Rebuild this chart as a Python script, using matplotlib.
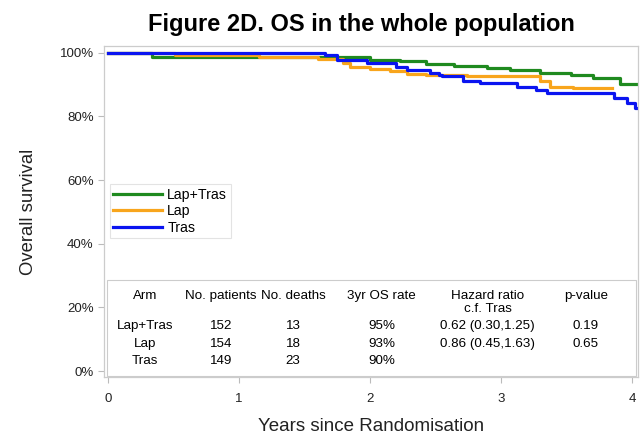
import matplotlib
matplotlib.use('Agg')
import matplotlib.pyplot as plt
from matplotlib.patches import Rectangle
from matplotlib.ticker import PercentFormatter

plt.rcParams['font.family'] = ['Liberation Sans', 'DejaVu Sans']

# KM step curves (years, survival) per arm
green_t = [0, 0.34, 2.0, 2.23, 2.43, 2.64, 2.89, 3.07, 3.3, 3.53, 3.7, 3.91, 4.04]
green_s = [1.0, 0.987, 0.979, 0.973, 0.966, 0.959, 0.952, 0.945, 0.938, 0.931, 0.92, 0.902, 0.902]

orange_t = [0, 0.51, 1.15, 1.6, 1.79, 1.85, 2.0, 2.15, 2.28, 2.43, 2.74, 3.3, 3.37, 3.55, 3.85]
orange_s = [1.0, 0.993, 0.987, 0.98, 0.968, 0.957, 0.95, 0.943, 0.934, 0.93, 0.926, 0.91, 0.894, 0.889, 0.889]

blue_t = [0, 1.66, 1.75, 1.98, 2.2, 2.28, 2.46, 2.53, 2.55, 2.71, 2.84, 3.12, 3.27, 3.35, 3.86, 3.96, 4.02, 4.04]
blue_s = [1.0, 0.993, 0.979, 0.968, 0.957, 0.947, 0.936, 0.93, 0.926, 0.91, 0.904, 0.894, 0.884, 0.873, 0.857, 0.843, 0.827, 0.827]

arms = ['Lap+Tras', 'Lap', 'Tras']
colors = ['#1f8a1f', '#f8a51c', '#0a14f0']

# summary table
header = ['Arm', 'No. patients', 'No. deaths', '3yr OS rate', 'Hazard ratio\nc.f. Tras', 'p-value']
n_patients = ['152', '154', '149']
n_deaths = ['13', '18', '23']
os_3yr = ['95%', '93%', '90%']
hazard = ['0.62 (0.30,1.25)', '0.86 (0.45,1.63)', '']
p_values = ['0.19', '0.65', '']

fig = plt.figure(figsize=(6.42, 4.41), dpi=100)
ax = fig.add_axes([0.162, 0.145, 0.832, 0.751])

for t, s, c, lab in zip([green_t, orange_t, blue_t], [green_s, orange_s, blue_s], colors, arms):
    ax.step(t, s, where='post', color=c, lw=2.3, label=lab)

ax.set_xlim(-0.03, 4.046)
ax.set_ylim(-0.019, 1.022)
ax.set_xticks([0, 1, 2, 3, 4])
ax.set_yticks([0, 0.2, 0.4, 0.6, 0.8, 1.0])
ax.yaxis.set_major_formatter(PercentFormatter(1.0, decimals=0))
ax.tick_params(labelsize=9.5, colors='#bbbbbb', labelcolor='#222222', length=4.5, width=0.8)
ax.tick_params(axis='x', pad=7)
ax.tick_params(axis='y', pad=3)
for sp in ax.spines.values():
    sp.set_color('#cccccc')
    sp.set_linewidth(0.9)

ax.set_xlabel('Years since Randomisation', fontsize=13.5, color='#222222', labelpad=9)
ax.set_ylabel('Overall survival', fontsize=13.3, color='#222222', labelpad=16)
fig.text(0.563, 0.945, 'Figure 2D. OS in the whole population', ha='center', va='center',
         fontsize=17, fontweight='bold')

leg = ax.legend(loc='upper left', bbox_to_anchor=(0.011, 0.582), fontsize=10.2,
                frameon=True, fancybox=False, handlelength=3.4, borderpad=0.25,
                labelspacing=0.18, handletextpad=0.4, borderaxespad=0)
leg.get_frame().set_edgecolor('#dddddd')
leg.get_frame().set_linewidth(0.8)

# table box and contents
ax.add_patch(Rectangle((0.006, 0.004), 0.99, 0.29, transform=ax.transAxes, fill=False,
                       edgecolor='#cccccc', lw=0.8))
col_x = [0.077, 0.219, 0.354, 0.52, 0.718, 0.902]
ty = 0.262
for x, h in zip(col_x, header):
    ax.text(x, ty, h, transform=ax.transAxes, ha='center', va='top', fontsize=9.6,
            linespacing=1.05)
row_y = [0.154, 0.101, 0.047]
for i in range(3):
    vals = [arms[i], n_patients[i], n_deaths[i], os_3yr[i], hazard[i], p_values[i]]
    for x, v in zip(col_x, vals):
        ax.text(x, row_y[i], v, transform=ax.transAxes, ha='center', va='center', fontsize=9.6)

fig.savefig('out.png', dpi=100)
